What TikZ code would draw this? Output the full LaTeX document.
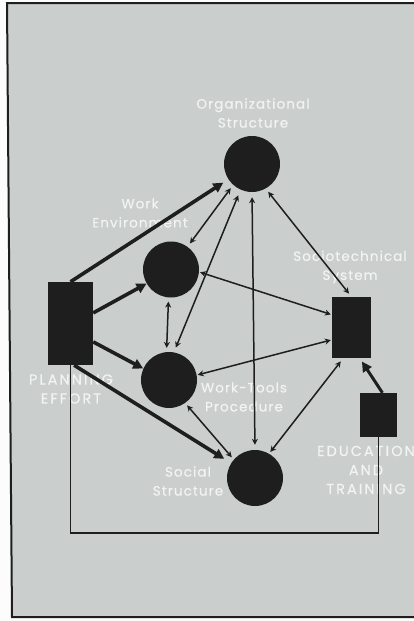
\documentclass[tikz,border=0pt]{standalone}
\usepackage{fontspec}
\newfontfamily\lblfont[LetterSpace=8,FakeBold=0.4]{Poppins}
\newfontfamily\capfont[LetterSpace=14,FakeBold=0.4]{Poppins}
\usetikzlibrary{arrows.meta}
\definecolor{bggray}{RGB}{202,206,205}
\definecolor{ink}{RGB}{30,30,30}
\definecolor{lbl}{RGB}{242,244,244}
\begin{document}
\begin{tikzpicture}[x=1pt,y=-1pt,
  blob/.style={circle,fill=ink,draw=none,minimum size=56pt,inner sep=0pt},
  block/.style={rectangle,fill=ink,draw=none,inner sep=0pt},
  label/.style={text=lbl,align=center,font=\lblfont\fontsize{13.5}{19}\selectfont,inner sep=0pt},
  caplabel/.style={label,font=\capfont\fontsize{14.5}{19}\selectfont},
  thick arrow/.style={line width=3.6pt,draw=ink,-{Triangle[length=10pt,width=10pt]}},
  thin arrow/.style={line width=1.5pt,draw=ink,{Stealth[length=6pt,width=6pt]}-{Stealth[length=6pt,width=6pt]}},
  loop line/.style={line width=1.8pt,draw=ink}]
\useasboundingbox (0,0) rectangle (414,621);
\fill[white!94!bggray] (0,0) rectangle (414,621);
\fill[bggray] (7,3) -- (414,3) -- (414,617) -- (12,617) -- cycle;
\draw[ink,line width=2pt] (414,3) -- (7,3) -- (12,617) -- (414,617);
% labels
\node[label] (torg) at (253,113) {Organizational\\Structure};
\node[label] (twenv) at (140,213) {Work\\Environment};
\node[label] (tsocio) at (350,267) {Sociotechnical\\System};
\node[caplabel] (tplan) at (71,389) {PLANNING\\EFFORT};
\node[label] (twt) at (244,397) {Work-Tools\\Procedure};
\node[label] (tsoc) at (188,481) {Social\\Structure};
\node[caplabel] (tedu) at (366,470) {EDUCATION\\AND\\TRAINING};
% nodes
\node[blob] (org) at (252,164) {};
\node[blob] (wenv) at (171,269.5) {};
\node[blob] (wt) at (169,380) {};
\node[blob] (soc) at (255,478) {};
\node[block,minimum width=45pt,minimum height=83pt] (plan) at (70.5,323.5) {};
\node[block,minimum width=39pt,minimum height=61pt] (socio) at (351.5,327.5) {};
\node[block,minimum width=37pt,minimum height=44pt] (edu) at (378.5,415) {};
% feedback loop
\draw[loop line] (plan.south) -- ++(0,168) -| (edu.south);
% thick arrows
\draw[thick arrow,shorten >=6pt] (plan.north) -- (org);
\draw[thick arrow] (plan.25) -- (wenv.210);
\draw[thick arrow] (plan.-39) -- (wt.156);
\draw[thick arrow,shorten >=8pt] (plan.-85) -- (soc);
\draw[thick arrow,line width=3pt,shorten >=4pt] (edu.80) -- (socio.-75);
% thin arrows
\draw[thin arrow,shorten <=4pt,shorten >=4pt] (org.228) -- (wenv.54);
\draw[thin arrow,shorten <=6pt,shorten >=5pt] (org.246) -- (wt.80);
\draw[thin arrow,shorten <=5pt,shorten >=5pt] (org.south) -- (soc.north);
\draw[thin arrow,shorten <=4pt,shorten >=4pt] (org.-61) -- (socio.north);
\draw[thin arrow,shorten <=4pt,shorten >=4pt] (wenv.-95) -- (wt.95);
\draw[thin arrow,shorten <=1pt,shorten >=1pt] (wenv.-5) -- (socio.147);
\draw[thin arrow,shorten <=1pt,shorten >=1pt] (wt.10) -- (socio.212);
\draw[thin arrow,shorten <=3pt,shorten >=3pt] (wt.-55) -- (soc.139);
\draw[thin arrow,shorten <=4pt,shorten >=2pt] (socio.-105) -- (soc.60);
\end{tikzpicture}
\end{document}
